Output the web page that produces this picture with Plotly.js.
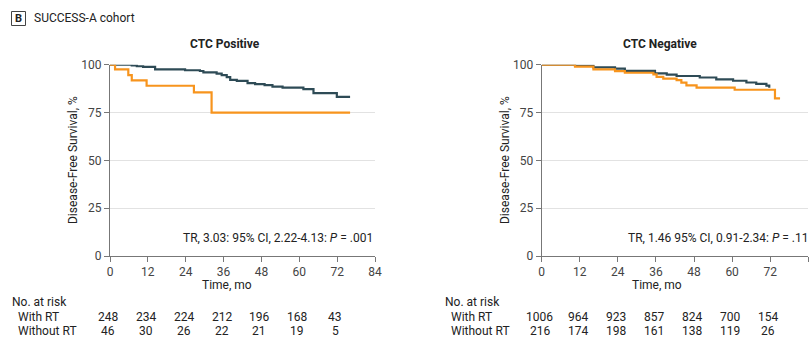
<!DOCTYPE html>
<html>
<head>
<meta charset="utf-8">
<script src="https://cdn.plot.ly/plotly-3.0.1.min.js"></script>
<style>html,body{margin:0;padding:0;background:#fff}#chart{width:812px;height:339px}</style>
</head>
<body>
<div id="chart"></div>
<script>
// ---- data ----
const posWithT = [0, 6.9, 8.5, 10.5, 14.3, 23.8, 28.5, 29.6, 33.8, 35.4, 37.0, 38.1, 40.2, 43.6, 46.0, 49.0, 51.5, 54.7, 61.3, 64.5, 71.9, 76.1];
const posWithS = [100, 99.6, 99.2, 98.9, 97.6, 97.1, 96.7, 96.0, 95.3, 94.5, 93.5, 92.1, 91.5, 90.4, 89.8, 89.3, 88.5, 88.0, 87.2, 85.1, 83.2, 83.2];
const posWithoutT = [0, 1.6, 5.8, 6.9, 11.6, 26.6, 32.2, 76.1];
const posWithoutS = [100, 97.6, 94.6, 91.8, 89.0, 85.5, 75.0, 75.0];

const negWithT = [0, 10.5, 16.3, 23.1, 26.2, 35.7, 39.4, 42.5, 49.8, 55.0, 60.3, 64.5, 67.6, 70.8, 71.7];
const negWithS = [100, 99.5, 98.6, 97.9, 96.8, 95.5, 94.8, 94.1, 93.3, 92.3, 91.6, 90.7, 90.0, 89.1, 88.0];
const negWithoutT = [0, 10.5, 16.3, 23.1, 26.2, 35.2, 36.2, 38.3, 42.5, 44.0, 45.6, 48.8, 60.8, 73.5, 75.1];
const negWithoutS = [100, 99.0, 97.6, 96.6, 95.8, 94.9, 93.6, 92.7, 91.9, 90.6, 89.2, 88.0, 86.9, 82.4, 82.4];

const riskTimes = [0, 12, 24, 36, 48, 60, 72];
const posRiskWith = [248, 234, 224, 212, 196, 168, 43];
const posRiskWithout = [46, 30, 26, 22, 21, 19, 5];
const negRiskWith = [1006, 964, 923, 857, 824, 700, 154];
const negRiskWithout = [216, 174, 198, 161, 138, 119, 26];

const xTicks = [0, 12, 24, 36, 48, 60, 72, 84];
const yTicks = [0, 25, 50, 75, 100];

// ---- styling ----
const FONT = "Roboto, 'Open Sans', sans-serif";
const DARK = '#2e4b56';
const ORANGE = '#f7941d';
const TXT = '#222';

function line(x, y, color, xa, ya) {
  return {x: x, y: y, xaxis: xa, yaxis: ya, mode: 'lines', line: {shape: 'hv', color: color, width: 2.2}, hoverinfo: 'skip', showlegend: false};
}
const data = [
  line(posWithT, posWithS, DARK, 'x', 'y'),
  line(posWithoutT, posWithoutS, ORANGE, 'x', 'y'),
  line(negWithT, negWithS, DARK, 'x2', 'y2'),
  line(negWithoutT, negWithoutS, ORANGE, 'x2', 'y2')
];

const yDom = [83/339, 274.3/339];
function xax(dom) {
  return {domain: dom, range: [0, 84], tickvals: xTicks, ticktext: xTicks.map(String), showgrid: false, zeroline: false,
    showline: true, linecolor: '#777', linewidth: 1, ticks: 'outside', ticklen: 5, tickcolor: '#777',
    tickfont: {family: FONT, size: 12, color: '#444'}, fixedrange: true};
}
function yax(dom, anchor) {
  return {domain: dom, anchor: anchor, range: [0, 100], tickvals: yTicks, showgrid: true, gridcolor: '#e2e2e2', zeroline: false,
    showline: true, linecolor: '#777', linewidth: 1, ticks: 'outside', ticklen: 5, tickcolor: '#777',
    tickfont: {family: FONT, size: 12, color: '#444'}, fixedrange: true};
}

const ann = [];
function txt(text, x, y, opts) {
  ann.push(Object.assign({text: text, x: x, y: y, xref: 'paper', yref: 'paper', showarrow: false,
    font: {family: FONT, size: 12, color: TXT}, xanchor: 'left', yanchor: 'middle'}, opts || {}));
}
function px(xp) { return xp / 812; }
function py(yp) { return 1 - yp / 339; }

txt('<b>B</b>', px(18.5), py(18.5), {xanchor: 'center', font: {family: FONT, size: 11, color: TXT}});
txt('SUCCESS-A cohort', px(32), py(18));
txt('<b>CTC Positive</b>', px(225), py(44), {xanchor: 'center'});
txt('<b>CTC Negative</b>', px(660), py(44), {xanchor: 'center'});
txt('Disease-Free Survival, %', px(73), py(160), {xanchor: 'center', textangle: -90});
txt('Disease-Free Survival, %', px(505), py(160), {xanchor: 'center', textangle: -90});
txt('Time, mo', px(227), py(285), {xanchor: 'center'});
txt('Time, mo', px(657), py(285), {xanchor: 'center'});
txt('TR, 3.03: 95% CI, 2.22-4.13: <i>P</i> = .001', px(375), py(238), {xanchor: 'right'});
txt('TR, 1.46 95% CI, 0.91-2.34: <i>P</i> = .11', px(810), py(238), {xanchor: 'right'});

txt('No. at risk', px(10), py(302));
txt('With RT', px(16), py(317));
txt('Without RT', px(16), py(331));
txt('No. at risk', px(443), py(302));
txt('With RT', px(449), py(317));
txt('Without RT', px(449), py(331));

function riskRow(times, vals, xref, yp) {
  times.forEach((t, i) => {
    ann.push({text: String(vals[i]), x: t, y: py(yp), xref: xref, yref: 'paper', showarrow: false, xshift: -2,
      font: {family: FONT, size: 12, color: TXT}, xanchor: 'center', yanchor: 'middle'});
  });
}
riskRow(riskTimes, posRiskWith, 'x', 317);
riskRow(riskTimes, posRiskWithout, 'x', 331);
riskRow(riskTimes, negRiskWith, 'x2', 317);
riskRow(riskTimes, negRiskWithout, 'x2', 331);

const layout = {
  width: 812, height: 339, margin: {l: 0, r: 0, t: 0, b: 0}, paper_bgcolor: '#fff', plot_bgcolor: '#fff',
  font: {family: FONT, size: 12, color: TXT},
  xaxis: Object.assign(xax([px(110), px(375)]), {anchor: 'y'}),
  yaxis: yax(yDom, 'x'),
  xaxis2: Object.assign(xax([px(541.7), px(808.3)]), {anchor: 'y2'}),
  yaxis2: yax(yDom, 'x2'),
  annotations: ann,
  shapes: [{type: 'rect', xref: 'paper', yref: 'paper', x0: px(11.5), x1: px(25.5), y0: py(25.5), y1: py(11.5), line: {color: '#444', width: 1}}]
};

Plotly.newPlot('chart', data, layout, {staticPlot: true, displayModeBar: false});
</script>
</body>
</html>
